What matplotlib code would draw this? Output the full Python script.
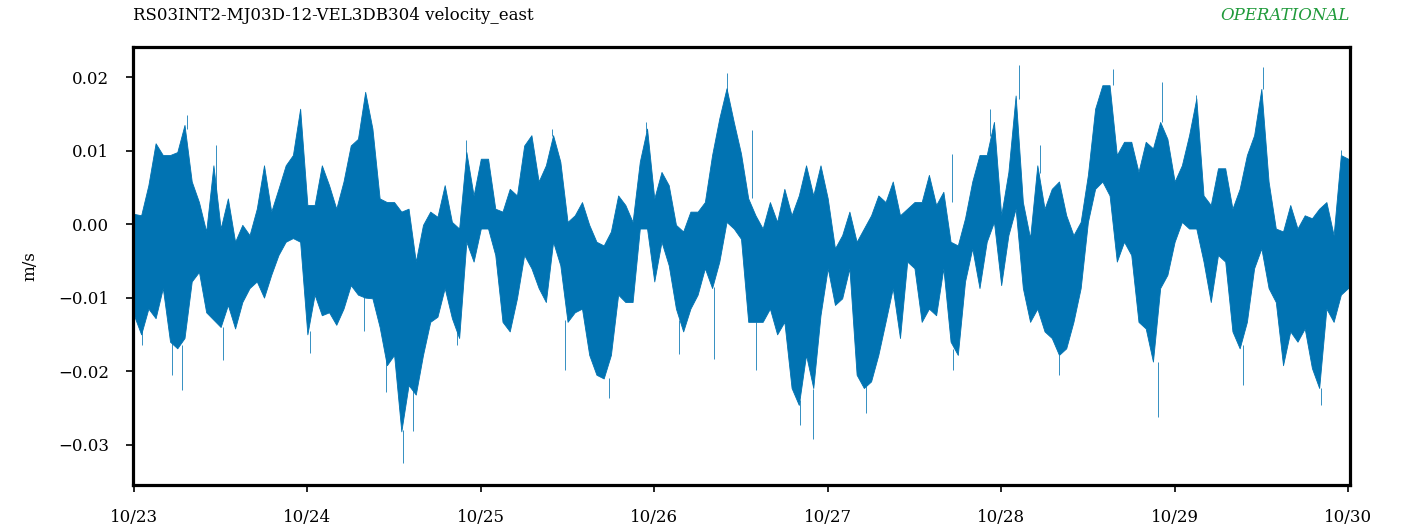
import numpy as np
import pandas as pd
import matplotlib
matplotlib.use('Agg')
import matplotlib.pyplot as plt
import matplotlib.dates as mdates

plt.rcParams['font.family'] = 'DejaVu Serif'

# hourly envelope of the east velocity (mm/s), starting 10/23 00:00
upper = [1.4, 1.2, 5.3, 11.0, 9.4, 9.4, 9.8, 13.5, 5.8, 3.0,
         -1.0, 8.0, -0.6, 3.5, -2.4, -0.1, -1.5, 2.1, 8.0, 1.7,
         4.8, 8.0, 9.4, 15.7, 2.6, 2.6, 8.0, 5.3, 2.1, 5.8,
         10.7, 11.6, 18.0, 13.0, 3.5, 3.0, 3.0, 1.7, 2.1, -5.1,
         -0.1, 1.7, 1.0, 5.3, 0.3, -0.6, 9.8, 3.9, 8.9, 8.9,
         2.1, 1.7, 4.8, 3.9, 10.7, 12.1, 5.8, 8.0, 12.1, 8.5,
         0.3, 1.2, 3.0, -0.1, -2.4, -2.9, -1.0, 3.9, 2.6, 0.3,
         8.5, 13.0, 3.5, 7.1, 5.3, -0.1, -1.0, 1.7, 1.7, 3.0,
         9.4, 14.4, 18.5, 13.9, 9.6, 3.5, 1.2, -0.6, 3.0, 0.3,
         4.8, 1.2, 3.9, 8.0, 3.9, 8.0, 3.5, -3.3, -1.5, 1.7,
         -2.4, -0.6, 1.2, 3.9, 3.0, 5.8, 1.2, 2.1, 3.0, 3.0,
         6.7, 2.6, 4.4, -2.4, -2.9, 0.8, 5.8, 9.4, 9.4, 13.9,
         1.2, 7.1, 17.5, 3.0, -1.9, 8.0, 2.1, 4.8, 5.8, 1.2,
         -1.5, 0.3, 6.7, 15.7, 18.9, 18.9, 9.4, 11.2, 11.2, 7.1,
         11.2, 10.3, 13.9, 11.6, 5.8, 8.0, 12.1, 17.1, 3.9, 2.6,
         7.6, 7.6, 2.1, 4.8, 9.4, 12.1, 18.4, 5.8, -0.6, -1.0,
         2.6, -0.6, 1.2, 0.8, 2.1, 3.0, -1.5, 9.4, 8.9]
lower = [-12.4, -15.0, -11.5, -12.8, -8.7, -16.0, -16.9, -15.5, -7.8, -6.5,
         -12.0, -13.0, -14.0, -11.0, -14.2, -10.6, -8.7, -7.8, -10.0, -6.9,
         -4.2, -2.4, -1.9, -2.4, -15.0, -9.6, -12.4, -12.0, -13.7, -11.5,
         -8.3, -9.6, -10.0, -10.1, -14.0, -19.2, -17.8, -28.2, -21.9, -23.2,
         -17.8, -13.3, -12.6, -8.7, -12.8, -15.5, -2.4, -5.1, -0.6, -0.6,
         -4.2, -13.3, -14.6, -10.1, -4.2, -6.0, -8.7, -10.6, -2.4, -5.6,
         -13.3, -12.0, -11.5, -17.8, -20.5, -21.0, -17.8, -9.6, -10.6, -10.6,
         -0.6, -0.6, -7.8, -2.4, -5.6, -11.5, -14.6, -11.5, -9.6, -6.0,
         -8.7, -5.1, 0.3, -0.6, -2.0, -13.3, -13.3, -13.3, -11.5, -15.0,
         -13.3, -22.3, -24.6, -17.8, -22.3, -12.4, -6.0, -11.0, -10.1, -6.0,
         -20.5, -22.3, -21.4, -17.8, -13.3, -8.7, -15.5, -5.1, -6.0, -13.3,
         -11.5, -12.4, -6.0, -16.0, -17.8, -7.8, -3.3, -8.7, -2.4, 0.3,
         -8.3, -1.5, 2.1, -8.7, -13.3, -11.5, -14.6, -15.5, -17.8, -16.9,
         -13.3, -8.7, 0.3, 4.8, 5.8, 3.9, -5.1, -2.4, -4.2, -13.3,
         -14.2, -18.7, -8.7, -6.9, -2.4, 0.3, -0.6, -0.6, -5.1, -10.6,
         -4.2, -5.1, -14.6, -16.9, -13.3, -6.0, -3.3, -8.7, -10.6, -19.2,
         -14.6, -16.0, -14.2, -19.6, -22.3, -11.5, -13.3, -9.6, -8.7]

# isolated spikes: hour, tip value, value where the spike meets the band (mm/s)
spike_hour = [7.4, 11.3, 6.7, 5.3, 37.2, 1.15, 12.35, 24.3, 31.8, 38.6, 34.9,
              82.0, 57.9, 45.9, 65.7, 59.7, 44.75, 80.3, 75.4, 70.8,
              122.5, 94.0, 92.1, 101.3, 85.5, 118.5, 125.4, 86.1, 113.3, 113.2,
              141.7, 156.2, 135.5, 164.3, 142.3, 146.9, 128.0, 153.5, 167.0]
spike_tip = [14.8, 10.7, -22.6, -20.5, -32.5, -16.4, -18.5, -17.6, -14.6, -28.2, -22.8,
             20.5, 13.0, 11.4, -23.7, -19.8, -16.4, -18.3, -17.7, 13.9,
             21.6, -29.3, -27.3, -25.7, 12.8, 15.7, 10.7, -19.8, -19.8, 9.6,
             -26.2, 21.4, 21.1, -24.6, 19.3, 17.5, -20.5, -21.9, 10.1]
spike_base = [13.0, 1.0, -16.5, -15.0, -28.0, -14.0, -14.0, -14.5, -9.5, -22.0, -16.5,
              18.0, 12.0, 9.0, -21.0, -13.0, -14.5, -8.5, -13.0, 12.5,
              17.0, -22.5, -24.0, -22.0, 3.5, 12.0, 7.0, -13.3, -17.0, 3.0,
              -18.7, 18.4, 18.9, -22.3, 13.9, 17.0, -17.8, -16.5, 9.4]

title = 'RS03INT2-MJ03D-12-VEL3DB304 velocity_east'
status = 'OPERATIONAL'
color = '#0173b2'

start = pd.Timestamp('2019-10-23 00:00')
t = start + pd.to_timedelta(np.arange(len(upper)), unit='h')
ts = start + pd.to_timedelta(spike_hour, unit='h')
up = np.array(upper) * 1e-3
lo = np.array(lower) * 1e-3

fig = plt.figure(figsize=(14.01, 5.31), dpi=100)
ax = fig.add_axes([0.0949, 0.0866, 0.8687, 0.8249])

ax.fill_between(t, lo, up, color=color, edgecolor=color, linewidth=0.6)
ax.vlines(ts, np.array(spike_base) * 1e-3, np.array(spike_tip) * 1e-3,
          color=color, linewidth=0.7, alpha=0.8)

ax.set_xlim(start - pd.Timedelta(minutes=8), start + pd.Timedelta(days=7, minutes=16))
ax.set_ylim(-0.0355, 0.0241)
ax.set_yticks([-0.03, -0.02, -0.01, 0.0, 0.01, 0.02])
ax.xaxis.set_major_locator(mdates.DayLocator())
ax.xaxis.set_major_formatter(mdates.DateFormatter('%m/%d'))

for side in ['top', 'right', 'bottom', 'left']:
    ax.spines[side].set_linewidth(2.3)
ax.tick_params(axis='both', labelsize=12, length=5, width=1.2, pad=12)
ax.set_ylabel('m/s', fontsize=12, labelpad=14)

ax.set_title(title, loc='left', fontsize=12, pad=19.5)
ax.set_title(status, loc='right', fontsize=12, pad=19.5, color='#1f9a3a', style='italic')

fig.savefig('out.png', dpi=100)
